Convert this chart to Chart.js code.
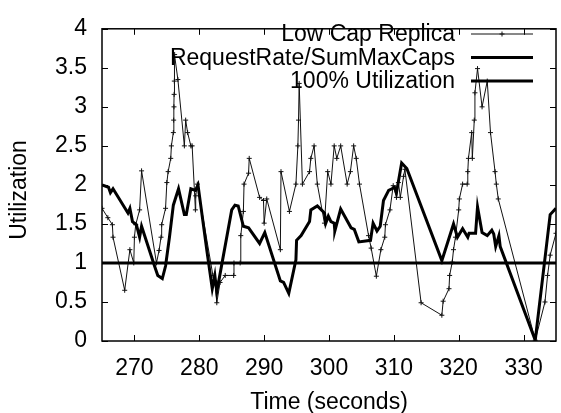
<!DOCTYPE html>
<html><head><meta charset="utf-8">
<script src="https://cdn.jsdelivr.net/npm/chart.js@4"></script>
<style>html,body{margin:0;padding:0;background:#fff}#wrap{width:561px;height:413px}</style>
</head><body><div id="wrap"><canvas id="c" width="561" height="413"></canvas></div>
<script>
const xTicks=[270,280,290,300,310,320,330];
const xTickLabels=["270","280","290","300","310","320","330"];
const yTicks=[0,0.5,1,1.5,2,2.5,3,3.5,4];
const yTickLabels=["0","0.5","1","1.5","2","2.5","3","3.5","4"];
const seriesLabels=["Low Cap Replica","RequestRate/SumMaxCaps","100% Utilization"];

const lowCapTime=[265.0,265.9,266.6,266.7,268.5,269.3,269.9,270.0,270.2,270.8,271.1,273.4,273.8,274.1,274.2,274.8,275.0,275.2,275.6,275.7,276.0,276.05,276.1,276.12,276.15,276.2,276.7,277.7,277.9,278.2,278.7,278.9,279.4,279.45,279.7,282.1,282.4,282.7,283.2,284.0,285.3,285.35,286.3,286.4,286.8,286.9,287.6,287.7,289.3,289.9,290.0,290.4,292.5,292.6,293.9,294.9,295.2,295.3,295.4,295.9,297.0,297.2,297.7,298.2,299.3,299.8,300.3,300.8,301.2,301.8,302.8,303.3,303.8,304.2,304.7,306.1,306.5,307.3,308.0,308.6,308.7,309.4,309.9,310.4,310.7,311.0,311.5,311.7,314.2,317.4,317.6,318.5,318.6,319.0,319.2,319.5,320.0,320.1,320.6,321.3,321.4,321.5,322.0,322.1,322.4,322.5,322.9,323.6,324.4,324.9,325.6,325.8,326.1,331.8,333.3,333.7,334.1,335.0];
const lowCapValue=[1.70,1.58,1.49,1.33,0.65,1.17,1.00,1.33,1.49,1.68,2.18,1.00,1.16,1.33,1.49,1.70,2.03,2.17,2.34,2.50,2.67,2.83,3.00,3.16,3.33,3.67,3.35,2.50,2.83,2.67,2.50,2.50,1.68,1.86,2.01,0.84,0.77,0.49,0.75,0.84,0.84,1.00,1.00,1.35,1.66,2.01,2.15,2.34,1.84,1.80,1.51,1.82,1.17,2.17,1.66,2.01,2.50,2.83,3.30,2.01,2.17,2.34,2.50,2.01,1.51,2.17,2.01,2.50,2.34,2.50,2.01,2.17,2.50,2.34,2.01,1.35,1.19,0.83,1.17,1.33,1.49,1.68,1.99,1.84,2.03,1.84,2.11,2.20,0.49,0.33,0.51,0.67,0.84,1.01,1.17,1.33,1.68,1.82,2.01,2.01,2.17,2.34,2.67,2.34,2.83,3.18,3.49,3.00,3.33,2.67,2.17,2.01,1.82,0.01,0.50,0.84,1.10,1.38];

const reqTime=[265.0,266.0,266.3,266.7,269.0,269.3,269.7,270.3,270.8,271.1,273.1,273.6,274.3,274.8,275.4,276.0,276.8,277.7,278.0,278.7,279.4,279.8,281.2,282.0,282.4,282.7,285.0,285.5,286.0,286.8,287.6,289.3,290.1,292.5,293.0,293.8,294.9,295.0,295.7,297.0,297.2,298.2,299.3,299.5,299.9,300.3,300.8,300.9,301.8,303.4,303.9,304.6,306.4,306.8,307.4,307.9,308.4,309.2,309.7,310.1,310.4,311.2,312.0,317.4,319.2,319.8,320.6,321.4,321.6,322.6,322.9,323.6,324.4,325.1,325.4,325.7,326.2,326.4,331.8,334.1,335.0];
const reqValue=[2.00,1.97,1.90,1.95,1.64,1.70,1.53,1.49,1.33,1.47,0.96,0.84,0.80,0.96,1.33,1.74,1.95,1.62,1.62,1.95,1.93,2.00,1.14,0.67,0.84,0.63,1.68,1.74,1.73,1.47,1.45,1.25,1.39,0.77,0.75,0.61,1.04,1.29,1.35,1.53,1.68,1.73,1.64,1.51,1.60,1.53,1.51,1.41,1.69,1.45,1.43,1.27,1.29,1.51,1.41,1.47,1.80,1.93,1.95,1.97,1.90,2.28,2.21,1.03,1.50,1.33,1.44,1.33,1.38,1.38,1.72,1.39,1.35,1.42,1.37,1.21,1.35,1.21,0.01,1.62,1.70];

const utilTime=[265,335];
const utilValue=[1,1];

const zip=(t,v)=>t.map((x,i)=>({x:x,y:v[i]}));
const FONT='"Liberation Sans", Arial, Helvetica, sans-serif';
const labelFor=(ticks,labels)=>(v)=>{const i=ticks.indexOf(v);return i>=0?labels[i]:'';};

const deco={id:'deco',afterDraw(chart){
  const {ctx,chartArea:a,scales:{x,y}}=chart;
  ctx.save();
  ctx.strokeStyle='#000';ctx.lineWidth=1;
  ctx.beginPath();
  xTicks.forEach(v=>{const p=Math.round(x.getPixelForValue(v))+0.5;
    ctx.moveTo(p,a.bottom);ctx.lineTo(p,a.bottom-6);ctx.moveTo(p,a.top);ctx.lineTo(p,a.top+6);});
  yTicks.forEach(v=>{const p=Math.round(y.getPixelForValue(v))+0.5;
    ctx.moveTo(a.left,p);ctx.lineTo(a.left+6,p);ctx.moveTo(a.right,p);ctx.lineTo(a.right-6,p);});
  ctx.stroke();
  ctx.lineWidth=1.5;
  ctx.strokeRect(a.left,a.top,a.width,a.height);
  // legend
  ctx.font='23px '+FONT;ctx.fillStyle='#000';ctx.textAlign='right';ctx.textBaseline='middle';
  const rows=[34,57.5,81];
  chart.data.datasets.forEach((ds,i)=>{
    const yy=rows[i];
    ctx.fillText(ds.label,455,yy+1);
    ctx.beginPath();ctx.strokeStyle=ds.borderColor;ctx.lineWidth=ds.borderWidth;
    ctx.moveTo(471,yy);ctx.lineTo(533,yy);ctx.stroke();
    if(ds.pointRadius>0){ctx.lineWidth=1;ctx.beginPath();ctx.moveTo(502,yy-2.5);ctx.lineTo(502,yy+2.5);ctx.moveTo(499.5,yy);ctx.lineTo(504.5,yy);ctx.stroke();}
  });
  // axis titles
  ctx.fillStyle='#000';ctx.textAlign='center';ctx.textBaseline='middle';
  ctx.fillText('Time (seconds)',(a.left+a.right)/2,403);
  ctx.translate(20,190);ctx.rotate(-Math.PI/2);ctx.fillText('Utilization',0,0);
  ctx.restore();
}};

new Chart(document.getElementById('c'),{
  type:'line',
  data:{datasets:[
    {label:seriesLabels[0],data:zip(lowCapTime,lowCapValue),borderColor:'#111',borderWidth:1,pointStyle:'cross',pointRadius:2.5,pointBorderWidth:1,pointBorderColor:'#111',tension:0,order:3},
    {label:seriesLabels[1],data:zip(reqTime,reqValue),borderColor:'#000',borderWidth:3,pointRadius:0,tension:0,order:2,borderJoinStyle:'miter'},
    {label:seriesLabels[2],data:zip(utilTime,utilValue),borderColor:'#000',borderWidth:3,pointRadius:0,tension:0,order:1}
  ]},
  options:{
    responsive:false,animation:false,devicePixelRatio:1,
    layout:{padding:{top:17,right:1,left:0,bottom:0}},
    plugins:{legend:{display:false},tooltip:{enabled:false}},
    scales:{
      x:{type:'linear',min:265,max:335,
        afterBuildTicks:s=>{s.ticks=xTicks.map(v=>({value:v}));},
        afterFit:s=>{s.height=72;},
        grid:{display:false,drawTicks:false},border:{display:false},
        ticks:{font:{size:23,family:FONT},color:'#000',padding:14,maxRotation:0,autoSkip:false,callback:labelFor(xTicks,xTickLabels)}},
      y:{type:'linear',min:0,max:4,
        afterBuildTicks:s=>{s.ticks=yTicks.map(v=>({value:v}));},
        afterFit:s=>{s.width=102;},
        grid:{display:false,drawTicks:false},border:{display:false},
        ticks:{font:{size:23,family:FONT},color:'#000',padding:15,autoSkip:false,callback:labelFor(yTicks,yTickLabels)}}
    }
  },
  plugins:[deco]
});
</script></body></html>
